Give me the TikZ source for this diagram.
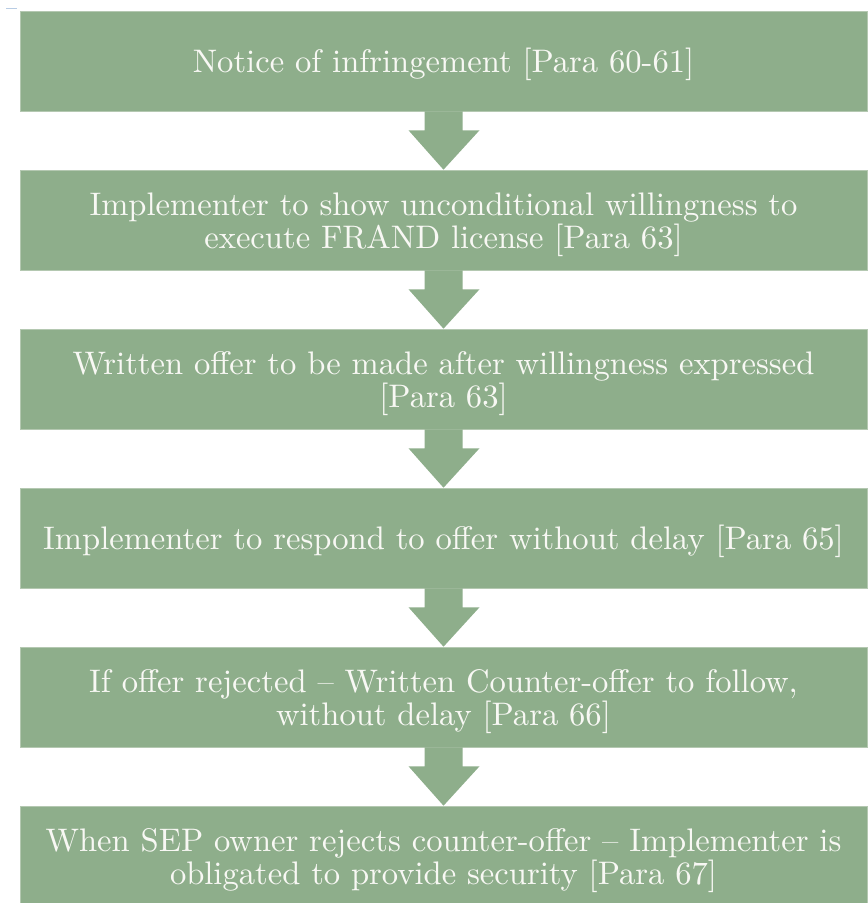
\documentclass[tikz,border=0pt]{standalone}
\usepackage{fontspec}
\setmainfont{lmroman10-regular.otf}
\usetikzlibrary{calc}
\definecolor{boxgreen}{HTML}{8EAE8B}
\definecolor{edgegreen}{HTML}{B4C8B1}
\definecolor{markblue}{HTML}{B8CCE4}
\definecolor{textwhite}{HTML}{F8F8F4}
\begin{document}
\begin{tikzpicture}[x=1pt,y=-1pt,
  stepbox/.style={fill=boxgreen,draw=edgegreen,line width=0.6pt,minimum width=847pt,minimum height=100pt,
    inner sep=0pt,text=textwhite,align=center,font=\fontsize{32.6}{33}\selectfont},
  oneline/.style={stepbox,text height=30pt,text depth=8pt},
  twoline/.style={stepbox,text height=63pt,text depth=6pt},
  arrowfill/.style={fill=boxgreen,draw=none}]
\useasboundingbox (0,0) rectangle (868,903);
\clip (0,0) rectangle (868,903);
\draw[markblue,line width=1pt] (6,8) -- (17,8);
\node[oneline] (b1) at (443.5,61) {Notice of infringement [Para 60-61]};
\node[twoline] (b2) at (443.5,220) {Implementer to show unconditional willingness to\\execute FRAND license [Para 63]};
\node[twoline] (b3) at (443.5,379) {Written offer to be made after willingness expressed\\{}[Para 63]};
\node[oneline] (b4) at (443.5,538) {Implementer to respond to offer without delay [Para 65]};
\node[twoline] (b5) at (443.5,697) {If offer rejected -- Written Counter-offer to follow,\\without delay [Para 66]};
\node[twoline] (b6) at (443.5,856) {When SEP owner rejects counter-offer -- Implementer is\\obligated to provide security [Para 67]};
\foreach \a/\b in {b1/b2,b2/b3,b3/b4,b4/b5,b5/b6}{
  \fill[arrowfill] ($(\a.south)+(-19,0)$) -- ($(\a.south)+(19,0)$) -- ($(\a.south)+(19,19)$)
    -- ($(\a.south)+(36,19)$) -- (\b.north) -- ($(\a.south)+(-35,19)$) -- ($(\a.south)+(-19,19)$) -- cycle;
}
\end{tikzpicture}
\end{document}
